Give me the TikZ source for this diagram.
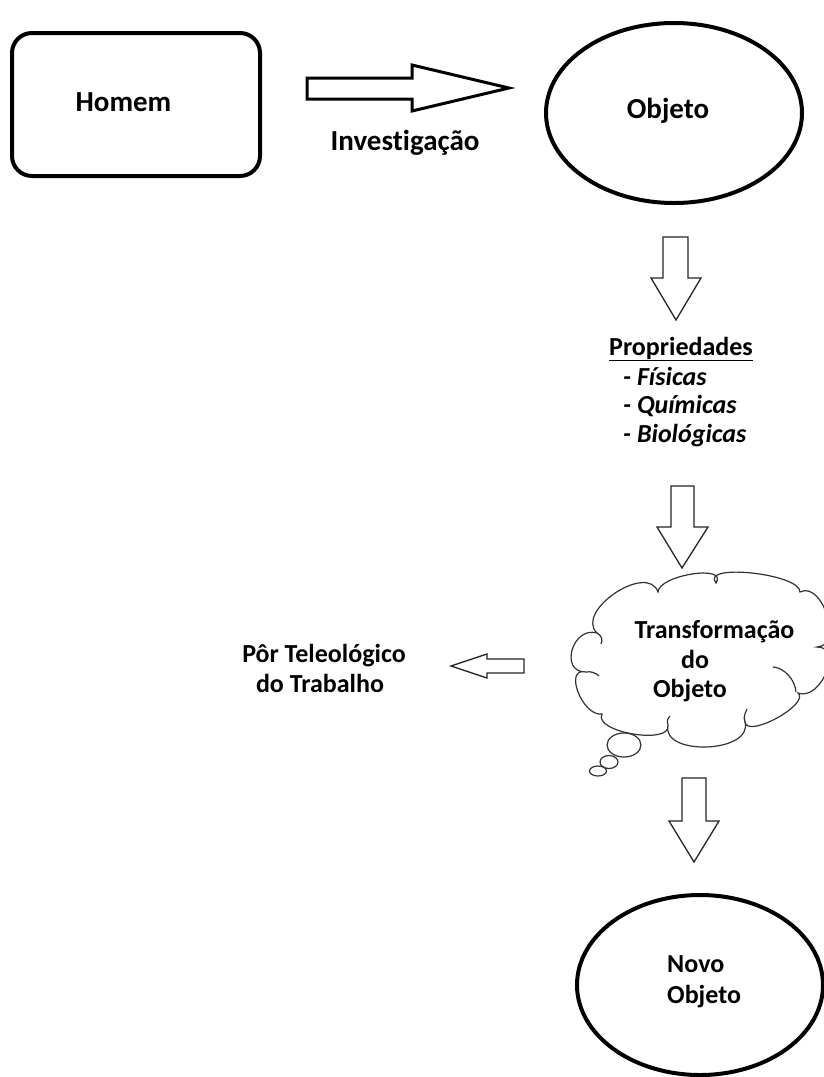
\documentclass[tikz,border=0pt]{standalone}
\usepackage{fontspec}
\setmainfont[Ligatures=NoCommon]{Carlito}
\usetikzlibrary{shapes.geometric}
\begin{document}
\begin{tikzpicture}[x=1pt,y=-1pt,
  biglbl/.style={font=\fontsize{29}{34}\selectfont\bfseries, inner sep=0pt, text=black},
  lbl/.style={font=\fontsize{26}{31}\selectfont\bfseries, inner sep=0pt, text=black},
  ilbl/.style={font=\fontsize{26}{31}\selectfont\bfseries\itshape, inner sep=0pt, text=black},
  heavy/.style={draw=black, line width=4pt},
  blockarrow/.style={draw=black, line width=3pt, fill=white, line join=miter},
  thinarrow/.style={draw=black!85, line width=1.3pt, fill=white, line join=miter},
  cloudline/.style={draw=black!80, line width=1.2pt},
]
\clip (0,0) rectangle (824,1077);
\fill[white] (0,0) rectangle (824,1077);

% man and object
\node[heavy, rounded corners=20pt, minimum width=248pt, minimum height=143pt, inner sep=0pt] (homembox) at (136,104.5) {};
\node[biglbl, anchor=base] (homem) at (123.5,111) {Homem};

\node[heavy, ellipse, minimum width=256pt, minimum height=180pt, inner sep=0pt] (objetobox) at (674,113) {};
\node[biglbl, anchor=base] (objeto) at (668,118) {Objeto};

% investigation arrow
\draw[blockarrow] (307,78) -- (412,78) -- (412,65) -- (509,88) -- (412,111) -- (412,99) -- (307,99) -- cycle;
\node[biglbl, anchor=base] (invest) at (405,150) {Investigação};

% properties
\draw[thinarrow] (663,237) -- (688,237) -- (688,278) -- (701,278) -- (676,320) -- (651,278) -- (663,278) -- cycle;
\node[lbl, anchor=base west] (prop) at (609,355) {\underline{Propriedades}};
\node[ilbl, anchor=base west] (fis) at (623,385) {- Físicas};
\node[ilbl, anchor=base west] (quim) at (623,413) {- Químicas};
\node[ilbl, anchor=base west] (bio) at (623,442) {- Biológicas};

\draw[thinarrow] (671,486) -- (694,486) -- (694,527) -- (708,527) -- (682,568) -- (657,527) -- (671,527) -- cycle;

% thought cloud
\draw[cloudline, fill=white] (597,633)
  .. controls (574.3,611.2) and (647.5,562) .. (658,592)
  .. controls (658.9,574.9) and (728.5,564.1) .. (716,583)
  .. controls (699.6,562.8) and (800.4,573.6) .. (800,592)
  .. controls (822.9,580.5) and (843.3,646.5) .. (817,647)
  .. controls (843.5,646.4) and (820.7,701.6) .. (798,693)
  .. controls (810.6,704.1) and (747,738.9) .. (745,722)
  .. controls (753.4,753) and (661,756.6) .. (668,725)
  .. controls (671.9,745.4) and (592.7,732.2) .. (602,714)
  .. controls (582.3,716.9) and (563.1,666.5) .. (586,672)
  .. controls (559,672.6) and (572.2,625.8) .. (597,633) -- cycle;
% inner folds of the cloud
\draw[cloudline] (597,633) .. controls (602,636) and (603,640) .. (601,644);
\draw[cloudline] (773,667) .. controls (785,668) and (795,680) .. (796,692);
\draw[cloudline] (745,722) .. controls (744,716) .. (747,709);
\draw[cloudline] (668,725) .. controls (667,720) .. (670,716);
\draw[cloudline] (586,672) .. controls (591,671) and (596,673) .. (599,676);

\node[cloudline, draw, fill=white, ellipse, minimum width=34pt, minimum height=24pt, inner sep=0pt] (bub1) at (624,745) {};
\node[cloudline, draw, fill=white, ellipse, minimum width=18pt, minimum height=13pt, inner sep=0pt] (bub2) at (609,762) {};
\node[cloudline, draw, fill=white, ellipse, minimum width=17pt, minimum height=10pt, inner sep=0pt] (bub3) at (598,771) {};

\node[lbl, anchor=base] (transf) at (714.5,638) {Transformação};
\node[lbl, anchor=base] (transfdo) at (695,668) {do};
\node[lbl, anchor=base] (transfobj) at (690,697) {Objeto};

% teleological positing
\draw[thinarrow] (524,659) -- (487,659) -- (487,654) -- (451,666) -- (487,678) -- (487,673) -- (524,673) -- cycle;
\node[lbl, anchor=base] (por) at (324,662) {Pôr Teleológico};
\node[lbl, anchor=base] (trab) at (320,692) {do Trabalho};

% new object
\draw[thinarrow] (682,778) -- (706,778) -- (706,821) -- (719,821) -- (694,862) -- (669,821) -- (682,821) -- cycle;
\node[heavy, ellipse, minimum width=246pt, minimum height=180pt, inner sep=0pt] (novobox) at (700,985) {};
\node[lbl, anchor=base west] (novo) at (667,972) {Novo};
\node[lbl, anchor=base west] (novoobj) at (667,1003) {Objeto};
\end{tikzpicture}
\end{document}
